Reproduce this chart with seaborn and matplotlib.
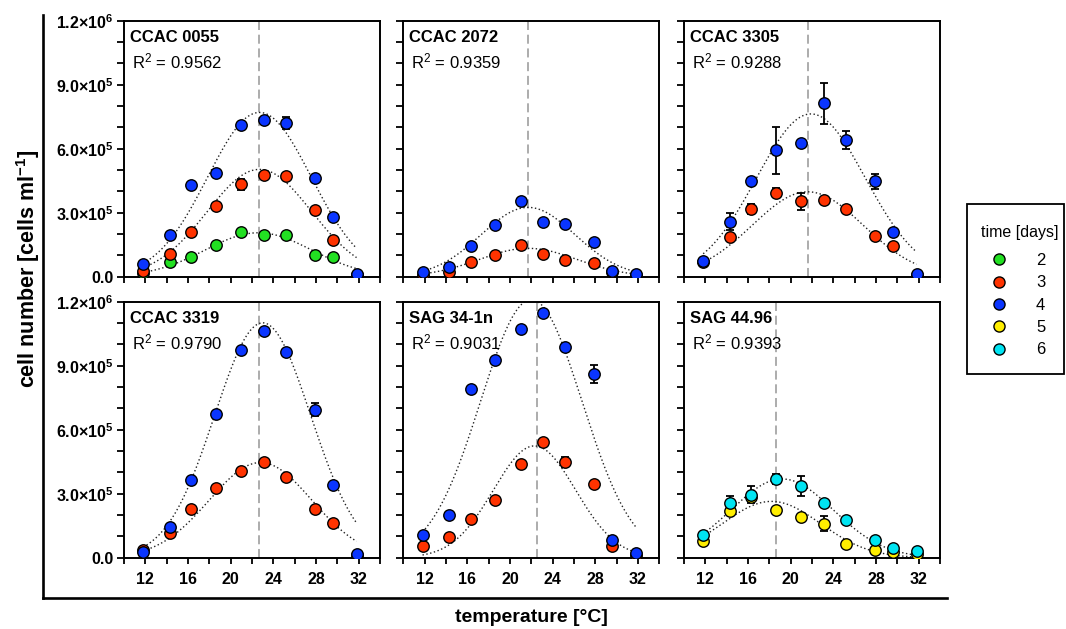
import numpy as np
import pandas as pd
import matplotlib
matplotlib.use("Agg")
import matplotlib.pyplot as plt
from matplotlib.lines import Line2D
from matplotlib.patches import Rectangle
from matplotlib.ticker import FixedLocator, MultipleLocator, FixedFormatter, NullFormatter
import seaborn as sns

sns.set_style("ticks")
plt.rcParams["font.family"] = ["Liberation Sans", "DejaVu Sans"]
plt.rcParams["mathtext.default"] = "regular"
plt.rcParams["text.color"] = "black"
plt.rcParams["axes.labelcolor"] = "black"
plt.rcParams["xtick.color"] = "black"
plt.rcParams["ytick.color"] = "black"

# ---- data (cells per ml, in thousands) ----
TEMPS = [11.8, 14.3, 16.3, 18.6, 21.0, 23.1, 25.2, 27.9, 29.6, 31.8]

STRAINS = ["CCAC 0055", "CCAC 2072", "CCAC 3305", "CCAC 3319", "SAG 34-1n", "SAG 44.96"]
R2 = ["0.9562", "0.9359", "0.9288", "0.9790", "0.9031", "0.9393"]
T_OPT = [22.7, 21.7, 21.6, 22.7, 22.5, 18.6]

c0055_d2 = [16, 69, 92, 147, 209, 194, 197, 100, 92, 10]
c0055_d3 = [28, 105, 208, 333, 433, 475, 470, 313, 172, 10]
c0055_d4 = [61, 195, 428, 486, 709, 734, 720, 464, 281, 11]
c2072_d3 = [8, 20, 67, 103, 150, 106, 78, 63, 20, 8]
c2072_d4 = [23, 44, 144, 241, 355, 255, 247, 164, 28, 11]
c3305_d3 = [70, 186, 316, 394, 353, 359, 319, 191, 142, 10]
c3305_d4 = [75, 258, 448, 592, 625, 812, 641, 447, 208, 14]
c3319_d3 = [34, 117, 227, 329, 407, 447, 379, 228, 163, 12]
c3319_d4 = [27, 145, 366, 673, 972, 1065, 962, 693, 341, 17]
s341n_d3 = [53, 95, 183, 271, 438, 541, 449, 347, 53, 15]
s341n_d4 = [108, 202, 790, 929, 1072, 1145, 990, 862, 81, 22]
s4496_d5 = [77, 219, 285, 222, 191, 160, 63, 38, 27, 17]
s4496_d6 = [108, 258, 296, 369, 336, 257, 178, 84, 47, 31]

# standard deviations (thousands)
c0055_d2_sd = [4, 5, 5, 6, 8, 6, 8, 6, 5, 2]
c0055_d3_sd = [5, 6, 8, 8, 25, 10, 8, 8, 8, 2]
c0055_d4_sd = [6, 6, 8, 8, 12, 10, 27, 10, 8, 2]
c2072_d3_sd = [3, 4, 5, 6, 6, 6, 5, 5, 4, 2]
c2072_d4_sd = [4, 5, 6, 6, 8, 6, 6, 6, 4, 2]
c3305_d3_sd = [6, 10, 23, 20, 39, 10, 8, 8, 8, 2]
c3305_d4_sd = [8, 39, 10, 111, 10, 94, 43, 36, 10, 2]
c3319_d3_sd = [10, 8, 8, 8, 8, 10, 8, 8, 8, 2]
c3319_d4_sd = [6, 10, 10, 10, 12, 12, 10, 30, 10, 2]
s341n_d3_sd = [5, 6, 8, 8, 8, 10, 23, 8, 5, 2]
s341n_d4_sd = [6, 8, 10, 10, 12, 12, 12, 42, 6, 2]
s4496_d5_sd = [5, 10, 20, 8, 8, 34, 8, 5, 4, 2]
s4496_d6_sd = [6, 33, 41, 22, 47, 10, 8, 6, 5, 3]

SERIES = [
    [(2, c0055_d2, c0055_d2_sd), (3, c0055_d3, c0055_d3_sd), (4, c0055_d4, c0055_d4_sd)],
    [(3, c2072_d3, c2072_d3_sd), (4, c2072_d4, c2072_d4_sd)],
    [(3, c3305_d3, c3305_d3_sd), (4, c3305_d4, c3305_d4_sd)],
    [(3, c3319_d3, c3319_d3_sd), (4, c3319_d4, c3319_d4_sd)],
    [(3, s341n_d3, s341n_d3_sd), (4, s341n_d4, s341n_d4_sd)],
    [(5, s4496_d5, s4496_d5_sd), (6, s4496_d6, s4496_d6_sd)],
]

# Gaussian fit parameters per series: amplitude (thousands), centre (°C), width (°C)
fit_c0055 = {2: (206, 22.6, 5.0), 3: (503, 22.7, 4.9), 4: (770, 22.7, 4.86)}
fit_c2072 = {3: (133, 21.7, 4.6), 4: (325, 21.7, 4.4)}
fit_c3305 = {3: (398, 21.6, 5.2), 4: (763, 21.9, 5.1)}
fit_c3319 = {3: (446, 22.8, 4.8), 4: (1101, 23.0, 4.5)}
fit_s341n = {3: (524, 22.3, 3.85), 4: (1210, 22.0, 4.75)}
fit_s4496 = {5: (264, 18.2, 4.6), 6: (369, 19.2, 4.8)}
FITS = [fit_c0055, fit_c2072, fit_c3305, fit_c3319, fit_s341n, fit_s4496]

DAYS = [2, 3, 4, 5, 6]
COLORS = {2: "#22e022", 3: "#ff3300", 4: "#0a35ff", 5: "#ffee00", 6: "#00e4f2"}

rows = []
for p, series in enumerate(SERIES):
    for day, vals, sds in series:
        for t, v, s in zip(TEMPS, vals, sds):
            rows.append({"panel": p, "time": day, "temperature": t,
                         "cells": v * 1e3, "sd": s * 1e3})
df = pd.DataFrame(rows)

# ---- layout (pixels) ----
W, H = 1066, 629
fig = plt.figure(figsize=(W / 100, H / 100), dpi=100)

def rect(l, t, w, h):
    return [l / W, 1 - (t + h) / H, w / W, h / H]

def fx(px):
    return px / W

def fy(py):
    return 1 - py / H

# outer L-shaped frame
frame = fig.add_axes(rect(43, 15, 904, 583))
frame.set_facecolor("none")
frame.set_xticks([]); frame.set_yticks([])
for s in ["top", "right"]:
    frame.spines[s].set_visible(False)
for s in ["left", "bottom"]:
    frame.spines[s].set_linewidth(1.9)
    frame.spines[s].set_color("black")

col_left = [124, 403.3, 684]
row_top = [20.7, 301.7]
PW, PH = 256, 256

ylabels = ["0.0", "3.0×10$^{5}$", "6.0×10$^{5}$", "9.0×10$^{5}$", "1.2×10$^{6}$"]
dotted = (0, (1, 1.8))
TICK_FS = 11.5

for p in range(6):
    r, c = divmod(p, 3)
    ax = fig.add_axes(rect(col_left[c], row_top[r], PW, PH))
    ax.set_facecolor("white")
    sub = df[df.panel == p]

    # fitted curves
    tt = np.linspace(TEMPS[0], TEMPS[-1], 200)
    for day, (amp, mu, sig) in FITS[p].items():
        yy = amp * 1e3 * np.exp(-((tt - mu) ** 2) / (2 * sig ** 2))
        sns.lineplot(x=tt, y=yy, ax=ax, color="#222222", lw=1.0,
                     linestyle=dotted, zorder=2)

    ax.axvline(T_OPT[p], color="#a6a6a6", lw=1.3, ls=(0, (5, 2.6)), zorder=1)

    for day in sorted(sub.time.unique()):
        d = sub[sub.time == day]
        ax.errorbar(d.temperature, d.cells, yerr=d.sd, fmt="none",
                    ecolor="black", elinewidth=1.3, capsize=3.2,
                    capthick=1.3, zorder=3)
        sns.scatterplot(data=d, x="temperature", y="cells", ax=ax,
                        color=COLORS[day], s=68, edgecolor="black",
                        linewidth=1.0, zorder=4, legend=False)

    ax.set_xlim(10, 34)
    ax.set_ylim(0, 1.2e6)
    ax.xaxis.set_major_locator(FixedLocator([12, 16, 20, 24, 28, 32]))
    ax.xaxis.set_minor_locator(MultipleLocator(2))
    ax.yaxis.set_major_locator(FixedLocator([0, 3e5, 6e5, 9e5, 1.2e6]))
    ax.yaxis.set_minor_locator(MultipleLocator(1e5))
    ax.tick_params(axis="both", which="both", direction="out", width=1.3,
                   colors="black")
    ax.tick_params(axis="x", which="both", length=4, pad=6)
    ax.tick_params(axis="y", which="both", length=5, pad=2.5)
    if c == 0:
        ax.yaxis.set_major_formatter(FixedFormatter(ylabels))
    else:
        ax.yaxis.set_major_formatter(NullFormatter())
    if r == 0:
        ax.xaxis.set_major_formatter(NullFormatter())
    ax.set_xlabel(""); ax.set_ylabel("")
    for lab in ax.get_xticklabels() + ax.get_yticklabels():
        lab.set_fontweight("bold")
        lab.set_fontsize(TICK_FS)
    for s in ax.spines.values():
        s.set_linewidth(1.4)
        s.set_color("black")

    ax.text(0.022, 0.962, STRAINS[p], transform=ax.transAxes, fontsize=12,
            fontweight="bold", va="top", ha="left", color="black")
    ax.text(0.03, 0.88, "R$^{2}$ = " + R2[p], transform=ax.transAxes,
            fontsize=12, va="top", ha="left", color="black")

fig.text(fx(531), fy(618), "temperature [°C]", fontsize=14,
         fontweight="bold", ha="center", va="center", color="black")
fig.text(fx(28), fy(269), "cell number [cells ml$^{-1}$]", fontsize=15.5,
         fontweight="bold", ha="center", va="center", rotation=90, color="black")

# legend box, title and entries
fig.patches.append(Rectangle((fx(967), fy(374)), fx(1064) - fx(967), fy(204) - fy(374),
                             transform=fig.transFigure, fill=False,
                             edgecolor="black", linewidth=1.3))
fig.text(fx(1020), fy(233), "time [days]", fontsize=11.5, ha="center",
         va="center", color="black")
handles = [Line2D([], [], ls="none", marker="o", markersize=8,
                  markerfacecolor=COLORS[d], markeredgecolor="black",
                  markeredgewidth=1.0) for d in DAYS]
leg = fig.legend(handles, [str(d) for d in DAYS],
                 loc="upper left", bbox_to_anchor=(fx(990.7), fy(253)),
                 frameon=False, fontsize=12, borderpad=0,
                 labelspacing=0.44, handlelength=1.0, handletextpad=1.72,
                 borderaxespad=0, labelcolor="black")

fig.savefig("out.png", dpi=100)
